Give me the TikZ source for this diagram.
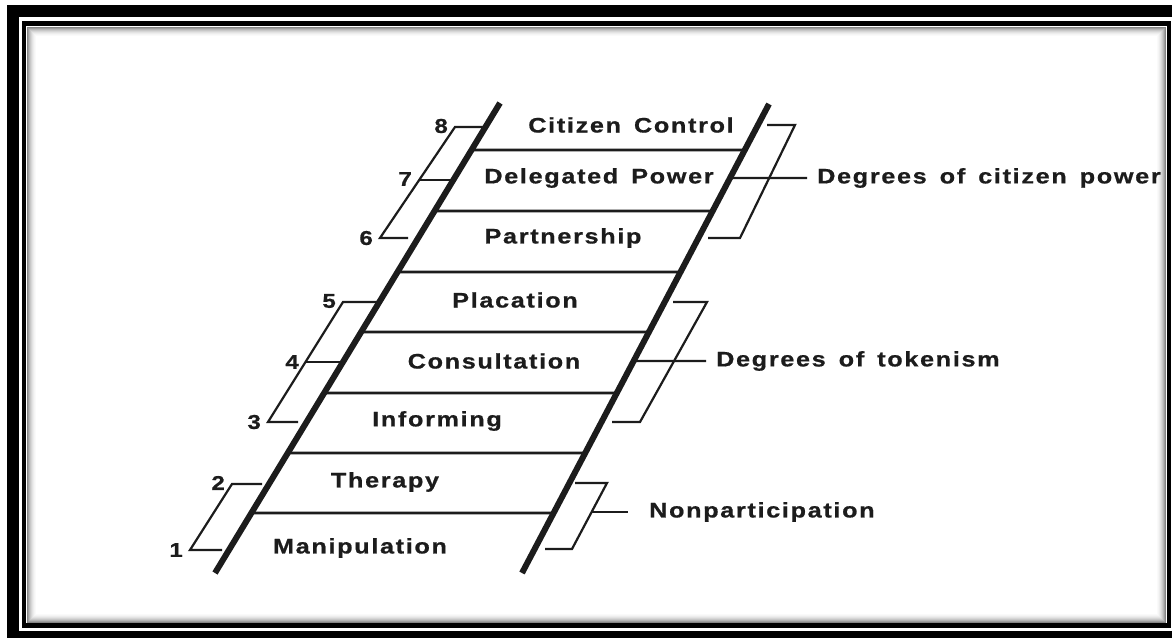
\documentclass[tikz,border=0pt]{standalone}
\usepackage{fontspec}
\usetikzlibrary{calc}
\setmainfont{Liberation Sans}
\newfontfamily\ladderfont[LetterSpace=8, WordSpace=1.5, FakeStretch=1.2, FakeBold=0.8]{Liberation Sans}
\definecolor{ink}{HTML}{1C1C1C}
\tikzset{
  rail/.style={line width=6pt, ink},
  rung/.style={line width=2.8pt, ink},
  brace/.style={line width=2.2pt, ink, line join=miter},
  rungtext/.style={font=\ladderfont\bfseries\fontsize{21}{24}\selectfont, text=ink, inner sep=0pt},
  grouptext/.style={font=\ladderfont\bfseries\fontsize{21}{24}\selectfont, text=ink, anchor=west, inner xsep=10pt, inner ysep=0pt},
  numtext/.style={font=\ladderfont\bfseries\fontsize{20}{22}\selectfont, text=ink, anchor=east, inner xsep=7pt, inner ysep=0pt},
}
\begin{document}
\begin{tikzpicture}[x=1pt, y=-1pt]
\useasboundingbox (0,0) rectangle (1172,637);
\clip (0,0) rectangle (1172,637);
\fill[white] (0,0) rectangle (1172,637);

% double frame
\draw[line width=12pt] (13,11) rectangle (1180,637);
\draw[line width=4.5pt] (24,23.5) rectangle (1169,625.5);
% soft inner shadow of the frame
\foreach \i/\c in {1/48,2/38,3/29,4/22,5/16,6/11,7/7,8/4,9/2}
  \draw[black!\c, line width=1pt] (26+\i,26+\i) rectangle (1166.5-\i,623-\i);

% rails
\coordinate (Lt) at (500,103);
\coordinate (Lb) at (215,573);
\coordinate (Rt) at (769,104);
\coordinate (Rb) at (522,573);

% rungs, as fractions of the way up each rail
\foreach \y [count=\k] in {150,211,272,332,393,453,513} {
  \pgfmathsetmacro{\tl}{(573-\y)/470}
  \pgfmathsetmacro{\tr}{(573-\y)/469}
  \coordinate (rl\k) at ($(Lb)!\tl!(Lt)$);
  \coordinate (rr\k) at ($(Rb)!\tr!(Rt)$);
  \draw[rung] (rl\k) -- (rr\k);
}
\draw[rail] (Lb) -- (Lt);
\draw[rail] (Rb) -- (Rt);

% rung labels
\node[rungtext] (c8) at (631,125) {Citizen Control};
\node[rungtext] (c7) at (599,178) {Delegated Power};
\node[rungtext] (c6) at (563,238) {Partnership};
\node[rungtext] (c5) at (515,300) {Placation};
\node[rungtext] (c4) at (494,361) {Consultation};
\node[rungtext] (c3) at (437,421) {Informing};
\node[rungtext] (c2) at (385,482) {Therapy};
\node[rungtext] (c1) at (360,548) {Manipulation};

% left brackets with rung numbers
\node[numtext] (n8) at (455,126) {8};
\node[numtext] (n7) at (419,179) {7};
\node[numtext] (n6) at (380,238) {6};
\node[numtext] (n5) at (343,301) {5};
\node[numtext] (n4) at (306,362) {4};
\node[numtext] (n3) at (268,422) {3};
\node[numtext] (n2) at (232,483) {2};
\node[numtext] (n1) at (190,550) {1};

\draw[brace] (483,127) -- (455,127) -- (380,238) -- (408,238);
\draw[brace] (419,180) -- (452,180);
\draw[brace] (378,302) -- (343,302) -- (268,422) -- (298,422);
\draw[brace] (306,362) -- (342,362);
\draw[brace] (262,484) -- (232,484) -- (190,550) -- (222,550);

% right brackets with group labels
\node[grouptext] (gp) at (807,178) {Degrees of citizen power};
\node[grouptext] (gt) at (706,361) {Degrees of tokenism};
\node[grouptext, inner xsep=21pt] (gn) at (628,512) {Nonparticipation};

\draw[brace] (767,125) -- (795,125) -- (740,238) -- (708,238);
\coordinate (rp) at ($(Rb)!{(573-178)/469}!(Rt)$);
\draw[brace] (rp) -- (gp.west);
\draw[brace] (673,302) -- (707,302) -- (640,422) -- (612,422);
\coordinate (rt) at ($(Rb)!{(573-361)/469}!(Rt)$);
\draw[brace] (rt) -- (gt.west);
\draw[brace] (575,483) -- (607,483) -- (572,549) -- (545,549);
\coordinate (rn) at (591.5,512);
\draw[brace] (rn) -- (gn.west);
\end{tikzpicture}
\end{document}
